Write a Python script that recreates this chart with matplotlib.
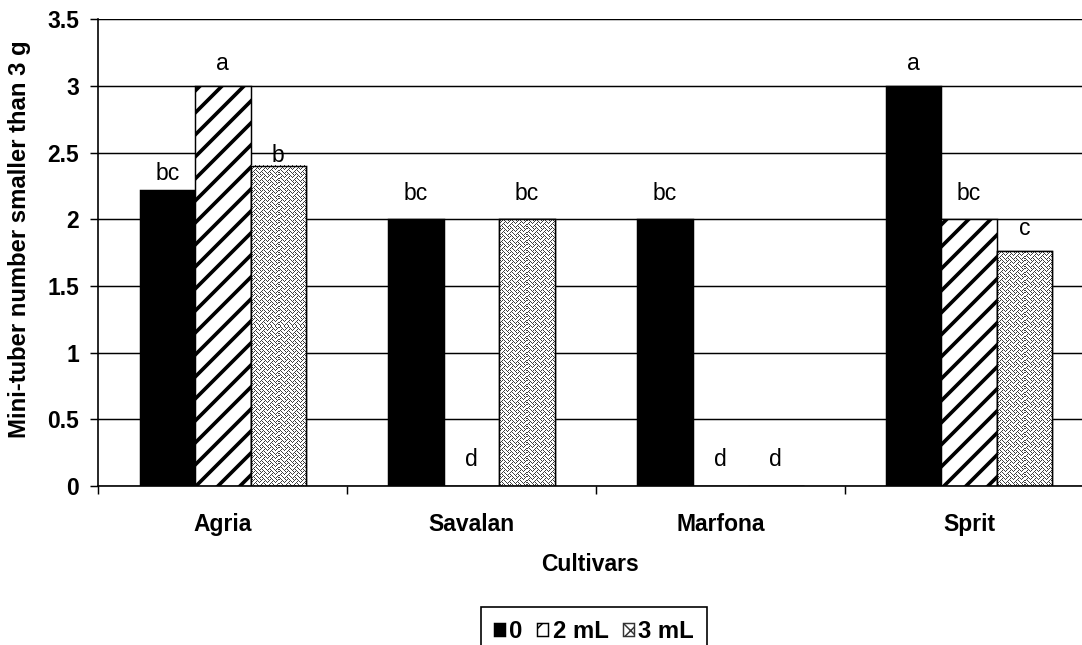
import numpy as np
import matplotlib
matplotlib.use('Agg')
import matplotlib.pyplot as plt

plt.rcParams['font.family'] = ['Liberation Sans', 'DejaVu Sans']

cultivars = ['Agria', 'Savalan', 'Marfona', 'Sprit']
doses = ['0', '2 mL', '3 mL']
# mini-tubers smaller than 3 g, one list per dose
dose_0 = [2.22, 2.0, 2.0, 3.0]
dose_2 = [3.0, 0.0, 0.0, 2.0]
dose_3 = [2.4, 2.0, 0.0, 1.76]
# mean separation letters, same order as the values
letters_0 = ['bc', 'bc', 'bc', 'a']
letters_2 = ['a', 'd', 'd', 'bc']
letters_3 = ['b', 'bc', 'd', 'c']
yticks = [0, 0.5, 1, 1.5, 2, 2.5, 3, 3.5]

# how far (points) each letter sits above its bar
nudge_0 = [9, 14, 14, 12.5]
nudge_2 = [12.5, 14.5, 14.5, 14]
nudge_3 = [5.5, 14, 14.5, 12.5]

# 8x8 "weave" fill used for the 3 mL bars
weave = np.array([[int(b) for b in f'{v:08b}']
                  for v in (0x88, 0x54, 0x22, 0x45, 0x88, 0x14, 0x22, 0x51)])

DPI = 132
FS = 12.5
fig = plt.figure(figsize=(1082 / DPI, 645 / DPI), dpi=DPI)
ax = fig.add_axes([0.091, 0.2465, 0.9196, 0.7236])

x = np.arange(len(cultivars))
w = 0.223
XL, YL = (-0.5, 3.5), (0, 3.5)
ax.set_xlim(*XL)
ax.set_ylim(*YL)

plt.rcParams['hatch.linewidth'] = 2.0
b0 = ax.bar(x - w, dose_0, w, color='black', edgecolor='black', lw=0.8, zorder=2, label=doses[0])
b2 = ax.bar(x, dose_2, w, color='white', edgecolor='black', lw=0.8, hatch='//', zorder=2, label=doses[1])
plt.rcParams['hatch.linewidth'] = 0.8
b3 = ax.bar(x + w, dose_3, w, color='white', edgecolor='#333333', lw=0.8, hatch='xxx', zorder=2, label=doses[2])


def weave_fill(rect):
    x0, y0 = rect.get_x(), rect.get_y()
    x1, y1 = x0 + rect.get_width(), y0 + rect.get_height()
    if y1 <= y0:
        return
    (px0, py0), (px1, py1) = ax.transData.transform([(x0, y0), (x1, y1)])
    nx, ny = int(round(px1 - px0)), int(round(py1 - py0))
    tile = np.tile(weave, (ny // 8 + 1, nx // 8 + 1))[:ny, :nx]
    img = np.where(tile == 1, 0.25, 1.0)
    ax.imshow(img, cmap='gray', vmin=0, vmax=1, extent=(x0, x1, y0, y1),
              interpolation='nearest', aspect='auto', zorder=2.5)


for r in b3:
    weave_fill(r)
# outline on top of the texture
ax.bar(x + w, dose_3, w, fill=False, edgecolor='black', lw=0.8, zorder=3)

for off, vals, labs, nud in [(-w, dose_0, letters_0, nudge_0),
                             (0, dose_2, letters_2, nudge_2),
                             (w, dose_3, letters_3, nudge_3)]:
    for xi, v, t, n in zip(x, vals, labs, nud):
        ax.annotate(t, (xi + off, v), xytext=(0, n), textcoords='offset points',
                    ha='center', va='center', fontsize=FS)

ax.set_xlim(*XL)
ax.set_ylim(*YL)

ax.set_xticks(x)
ax.set_xticklabels(cultivars, fontweight='bold', fontsize=FS)
ax.set_xticks(np.arange(-0.5, 4, 1), minor=True)
ax.tick_params(axis='x', which='major', length=0, pad=14.6)
ax.tick_params(axis='x', which='minor', length=4.4, width=0.8, direction='out')
ax.set_yticks(yticks)
ax.set_yticklabels([f'{t:g}' for t in yticks], fontweight='bold', fontsize=FS)
ax.tick_params(axis='y', length=4.4, width=0.8, pad=6.3)

ax.yaxis.grid(True, color='black', linewidth=0.8)
ax.set_axisbelow(True)
for s in ['top', 'right']:
    ax.spines[s].set_visible(False)
for s in ['left', 'bottom']:
    ax.spines[s].set_linewidth(0.9)

ax.set_xlabel('Cultivars', fontweight='bold', fontsize=FS, va='center')
ax.xaxis.set_label_coords(0.494, -0.169)
ax.set_ylabel('Mini-tuber number smaller than 3 g', fontweight='bold', fontsize=13, va='center')
ax.yaxis.set_label_coords(-0.079, 0.529)

leg = fig.legend(handles=[b0, b2, b3], labels=doses, loc='upper center',
                 bbox_to_anchor=(0.549, 1 - 607 / 645), ncol=3, frameon=True,
                 fancybox=False, edgecolor='black', framealpha=1,
                 prop={'weight': 'bold', 'size': 13}, handlelength=0.45,
                 handleheight=0.45, handletextpad=0.2, columnspacing=0.6,
                 borderpad=0.55, borderaxespad=0)
leg.get_frame().set_linewidth(0.9)

fig.savefig('out.png', dpi=DPI)
